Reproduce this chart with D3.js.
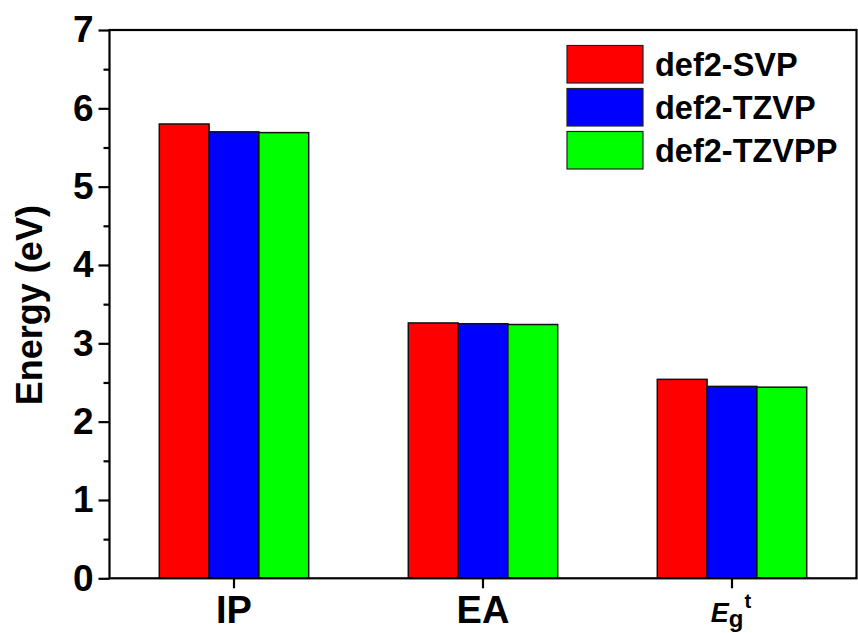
<!DOCTYPE html>
<html>
<head>
<meta charset="utf-8">
<script src="https://cdn.jsdelivr.net/npm/d3@7"></script>
<style>
  body { margin: 0; background: #fff; }
  svg { display: block; font-family: "Liberation Sans", Arial, sans-serif; font-weight: bold; }
</style>
</head>
<body>
<svg id="chart" width="858" height="633"></svg>
<script>
// data
const categories = ["IP", "EA", "Eg"];
const seriesNames = ["def2-SVP", "def2-TZVP", "def2-TZVPP"];
const svpValues = [5.80, 3.26, 2.54];
const tzvpValues = [5.70, 3.25, 2.45];
const tzvppValues = [5.69, 3.24, 2.44];
const seriesColors = ["#ff0000", "#0000ff", "#00ff00"];
const yTicks = [0, 1, 2, 3, 4, 5, 6, 7];
const yMinorTicks = [0.5, 1.5, 2.5, 3.5, 4.5, 5.5, 6.5];

const seriesValues = [svpValues, tzvpValues, tzvppValues];

const width = 858, height = 633;
const margin = { top: 30, right: 1.5, bottom: 54.7, left: 109.5 };
const innerW = width - margin.left - margin.right;
const innerH = height - margin.top - margin.bottom;

const svg = d3.select("#chart");
const g = svg.append("g").attr("transform", `translate(${margin.left},${margin.top})`);

const x0 = d3.scaleBand().domain(categories).range([0, innerW])
  .paddingInner(0.4).paddingOuter(0.2);
const x1 = d3.scaleBand().domain(seriesNames).range([0, x0.bandwidth()]);
const y = d3.scaleLinear().domain([0, 7]).range([innerH, 0]);

// bars
const groups = g.selectAll(".grp")
  .data(categories)
  .enter()
  .append("g")
  .attr("transform", (d) => `translate(${x0(d)},0)`);

groups.selectAll("rect")
  .data((d, i) => seriesNames.map((s, j) => ({ s, j, v: seriesValues[j][i] })))
  .enter()
  .append("rect")
  .attr("x", (d) => x1(d.s))
  .attr("y", (d) => y(d.v))
  .attr("width", x1.bandwidth())
  .attr("height", (d) => y(0) - y(d.v))
  .attr("fill", (d) => seriesColors[d.j])
  .attr("stroke", "#111")
  .attr("stroke-width", 1.5);

// frame
g.append("rect")
  .attr("x", 0).attr("y", 0)
  .attr("width", innerW).attr("height", innerH)
  .attr("fill", "none").attr("stroke", "#000").attr("stroke-width", 2.2);

// y axis
const yAxis = g.append("g")
  .call(d3.axisLeft(y).tickValues(yTicks).tickSize(11).tickPadding(5).tickFormat(d3.format("d")));
yAxis.select(".domain").remove();
yAxis.selectAll("line").attr("stroke-width", 2.2);
yAxis.selectAll("text")
  .attr("font-size", 37).attr("font-weight", "bold").attr("fill", "#000")
  .attr("font-family", '"Liberation Sans", Arial, sans-serif');

const yMinor = g.append("g")
  .call(d3.axisLeft(y).tickValues(yMinorTicks).tickSize(6).tickFormat(""));
yMinor.select(".domain").remove();
yMinor.selectAll("line").attr("stroke-width", 2.2);

// x axis
const xAxis = g.append("g")
  .attr("transform", `translate(0,${innerH})`)
  .call(d3.axisBottom(x0).tickSize(10).tickFormat(""));
xAxis.select(".domain").remove();
xAxis.selectAll("line").attr("stroke-width", 2.2);

const xLabels = xAxis.selectAll(".tick")
  .append("text")
  .attr("y", 45)
  .attr("text-anchor", "middle")
  .attr("fill", "#000")
  .attr("font-family", '"Liberation Sans", Arial, sans-serif')
  .attr("font-weight", "bold");

xLabels.each(function (d) {
  const t = d3.select(this);
  if (d === "Eg") {
    t.attr("x", -1);
    t.append("tspan").attr("font-size", 27).attr("font-style", "italic").attr("dy", -1).text("E");
    t.append("tspan").attr("font-size", 24).attr("dy", 5).text("g");
    t.append("tspan").attr("font-size", 20).attr("dx", 1).attr("dy", -19).text("t");
  } else {
    t.attr("font-size", 38).text(d);
  }
});

// y title
svg.append("text")
  .attr("transform", `translate(42,${margin.top + innerH / 2 + 1}) rotate(-90)`)
  .attr("text-anchor", "middle")
  .attr("font-size", 36)
  .attr("fill", "#000")
  .text("Energy (eV)");

// legend
const legend = svg.append("g").attr("transform", "translate(567,45.5)");
const items = legend.selectAll(".item")
  .data(seriesNames)
  .enter()
  .append("g")
  .attr("transform", (d, i) => `translate(0,${i * 43})`);

items.append("rect")
  .attr("width", 76).attr("height", 37.5)
  .attr("fill", (d, i) => seriesColors[i])
  .attr("stroke", "#222").attr("stroke-width", 1.2);

items.append("text")
  .attr("x", 88).attr("y", 30)
  .attr("font-size", 32.5)
  .attr("fill", "#000")
  .text((d) => d);
</script>
</body>
</html>
